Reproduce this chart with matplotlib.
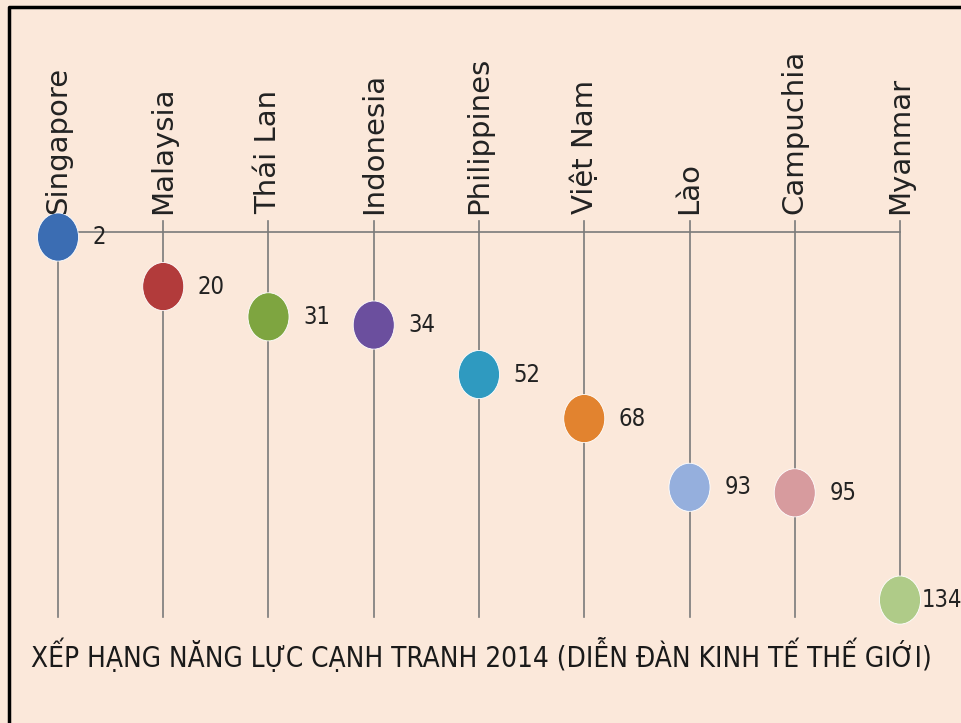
import matplotlib.pyplot as plt
from matplotlib.patches import Ellipse
from matplotlib.lines import Line2D

countries = ["Singapore", "Malaysia", "Thái Lan", "Indonesia", "Philippines",
             "Việt Nam", "Lào", "Campuchia", "Myanmar"]
ranks = [2, 20, 31, 34, 52, 68, 93, 95, 134]
colors = ["#3B6DB3", "#B23B3B", "#7EA540", "#6B4F9E", "#2F9AC0",
          "#E2832F", "#95AFDD", "#D79B9E", "#AFCB88"]
title = "XẾP HẠNG NĂNG LỰC CẠNH TRANH 2014 (DIỄN ĐÀN KINH TẾ THẾ GIỚI)"

bg = "#FBE8DA"
fig = plt.figure(figsize=(9.62, 7.23), dpi=100, facecolor=bg)
ax = fig.add_axes([0, 0, 1, 1])
ax.set_facecolor(bg)
ax.set_xlim(-0.551, 8.589)
ax.set_ylim(178.7, -84.2)
ax.axis("off")

# top baseline (rank 0) and the stems
ax.plot([0, len(countries) - 1], [0, 0], color="#7A7A7A", lw=1.2, zorder=1)
for i, (name, r, c) in enumerate(zip(countries, ranks, colors)):
    ax.plot([i, i], [-4 if i else 0, 140], color="#7A7A7A", lw=1.2, zorder=1)
    ax.add_patch(Ellipse((i, r), 0.39, 17.5, facecolor=c, edgecolor="white",
                         lw=0.6, zorder=3))
    dx = 0.21 if i == len(countries) - 1 else 0.33
    ax.text(i + dx, r, str(r), ha="left", va="center", fontsize=17,
            family="DejaVu Sans", fontstretch="condensed", color="#222222")
    ax.text(i, -6.5, name, rotation=90, ha="center", va="bottom", fontsize=21,
            family="DejaVu Sans", color="#222222")

fig.text(0.5, 0.093, title, ha="center", va="center", fontsize=20,
         family="DejaVu Sans", fontstretch="condensed", color="#1A1A1A")

# frame: only the left and top edges are visible in the picture
fig.add_artist(Line2D([9 / 962, 9 / 962, 1], [0, 1 - 7 / 723, 1 - 7 / 723],
                      color="black", lw=2.5, transform=fig.transFigure))

fig.savefig("out.png", dpi=100, facecolor=bg)
